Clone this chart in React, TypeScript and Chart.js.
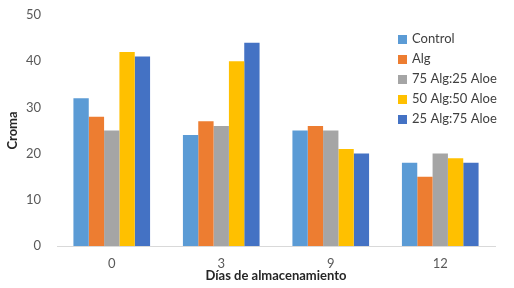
import React, { useEffect, useRef } from "react";
import { Chart, registerables } from "chart.js";

Chart.register(...registerables);

const categories = ["0", "3", "9", "12"];
const seriesNames = ["Control", "Alg", "75 Alg:25 Aloe", "50 Alg:50 Aloe", "25 Alg:75 Aloe"];
const controlValues = [32, 24, 25, 18];
const algValues = [28, 27, 26, 15];
const alg75Values = [25, 26, 25, 20];
const alg50Values = [42, 40, 21, 19];
const alg25Values = [41, 44, 20, 18];
const seriesColors = ["#5B9BD5", "#ED7D31", "#A5A5A5", "#FFC000", "#4472C4"];
const yTicks = [0, 10, 20, 30, 40, 50];
const xTitle = "Días de almacenamiento";
const yTitle = "Croma";

const FONT = "Lato, 'Open Sans', sans-serif";

export default function App() {
  const ref = useRef<HTMLCanvasElement | null>(null);
  useEffect(() => {
    document.body.style.margin = "0";
    const values = [controlValues, algValues, alg75Values, alg50Values, alg25Values];
    const legendPlugin = {
      id: "customLegend",
      afterDraw(chart: any) {
        const ctx = chart.ctx;
        ctx.save();
        ctx.font = `13px ${FONT}`;
        ctx.textBaseline = "middle";
        ctx.textAlign = "left";
        seriesNames.forEach((name, i) => {
          const y = 39 + i * 20;
          ctx.fillStyle = seriesColors[i];
          ctx.fillRect(398, y - 4, 9, 9);
          ctx.fillStyle = "#404040";
          ctx.fillText(name, 412, y);
        });
        ctx.restore();
      },
    };
    const chart = new Chart(ref.current!, {
      type: "bar",
      data: {
        labels: categories,
        datasets: seriesNames.map((name, i) => ({
          label: name,
          data: values[i],
          backgroundColor: seriesColors[i],
          borderWidth: 0,
          barPercentage: 1,
          categoryPercentage: 0.7,
        })),
      },
      options: {
        animation: false,
        responsive: false,
        maintainAspectRatio: false,
        layout: { padding: { top: 15, right: 19, bottom: 0, left: 5 } },
        plugins: { legend: { display: false }, tooltip: { enabled: false } },
        scales: {
          x: {
            afterFit(scale: any) {
              scale.height = 42;
            },
            grid: { display: false, drawTicks: false },
            border: { display: true, color: "#D9D9D9", width: 1 },
            ticks: { color: "#595959", font: { family: FONT, size: 13 }, padding: 10 },
            title: {
              display: true,
              text: xTitle,
              color: "#262626",
              font: { family: FONT, size: 13, weight: "bold" },
              padding: { top: 0, bottom: 4 },
            },
          },
          y: {
            min: 0,
            max: 50,
            afterBuildTicks(scale: any) {
              scale.ticks = yTicks.map((v) => ({ value: v }));
            },
            afterFit(scale: any) {
              scale.width = 52;
              scale.paddingTop = 0;
              scale.paddingBottom = 0;
            },
            grid: { display: false, drawTicks: false },
            border: { display: false },
            ticks: { color: "#595959", font: { family: FONT, size: 13 }, padding: 16 },
            title: {
              display: true,
              text: yTitle,
              color: "#262626",
              font: { family: FONT, size: 13, weight: "bold" },
              padding: { top: 0, bottom: 0 },
            },
          },
        },
      },
      plugins: [legendPlugin],
    } as any);
    return () => chart.destroy();
  }, []);
  return (
    <div style={{ position: "relative", width: 514, height: 288, background: "#fff" }}>
      <canvas ref={ref} width={514} height={288} style={{ width: 514, height: 288 }} />
    </div>
  );
}
